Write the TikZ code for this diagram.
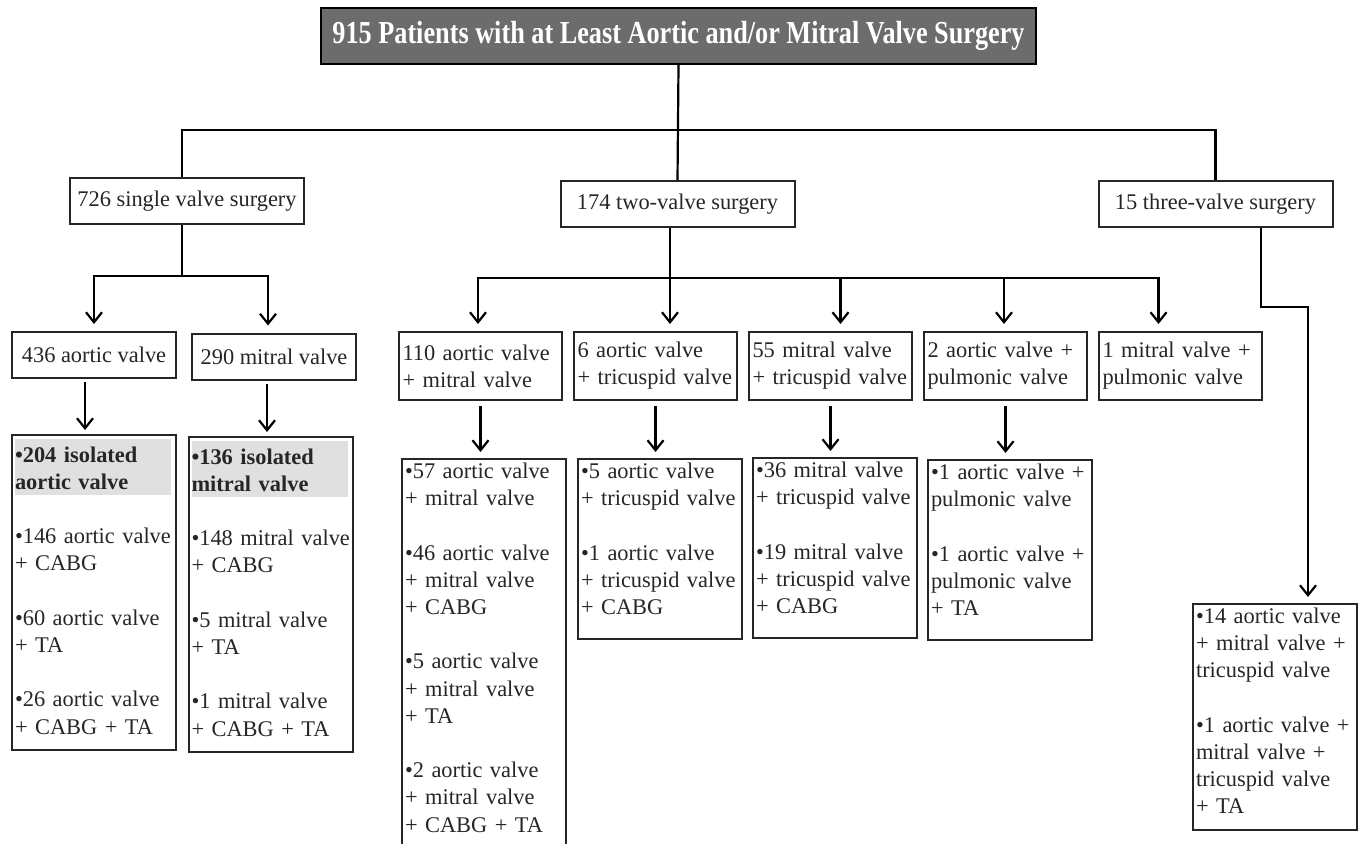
\documentclass[tikz,border=0pt]{standalone}
\usepackage{fontspec}
\setmainfont{Liberation Serif}
\newfontfamily\titlefont[FakeStretch=0.82]{Liberation Serif}
\usepackage{tikz}
\usetikzlibrary{arrows.meta}
\definecolor{titlegray}{RGB}{108,108,108}
\definecolor{hlgray}{RGB}{224,224,224}
\definecolor{ink}{RGB}{38,38,38}
\setlength{\fboxsep}{0pt}
\newcommand{\bodyfont}{\fontsize{11.2pt}{13.6pt}\selectfont}
\newcommand{\hl}[1]{\colorbox{hlgray}{\parbox[b]{78pt}{\bfseries\rule{0pt}{11.5pt}#1\rule[-3pt]{0pt}{3pt}}}}
\newcommand{\deep}[1]{\rule[-#1]{0pt}{#1}}
\newcommand{\emptyline}{\\[\baselineskip]}

\begin{document}
\begin{tikzpicture}[x=0.5pt, y=-0.5pt, line width=1.1pt, >={Straight Barb[length=5pt,width=8pt]}, node distance=87.5pt]
\tikzstyle{box}=[draw=ink, line width=1pt, text=ink, font=\bodyfont, inner sep=0pt]
\tikzstyle{title}=[draw=black, line width=1pt, fill=titlegray, text=white, font=\titlefont\fontsize{16pt}{18pt}\selectfont\bfseries, minimum width=357.5pt, minimum height=28pt]
\tikzstyle{midbox}=[box, minimum width=117pt, minimum height=23pt]
\tikzstyle{unitbox}=[box, minimum width=82pt, minimum height=23pt]
\tikzstyle{pairbox}=[box, text width=78pt, inner xsep=1.75pt, align=left, minimum height=34pt]
\tikzstyle{listbox}=[box, anchor=north, text width=79pt, inner xsep=1.5pt, inner ysep=2pt, align=left]
\path[fill=white, use as bounding box] (0,0) rectangle (1363,844);

\node[title] (all) at (678.5,36) {915 Patients with at Least Aortic and/or Mitral Valve Surgery};
\node[midbox] (single) at (187,201) {726 single valve surgery};
\node[midbox] (two) at (677.5,204) {174 two-valve surgery};
\node[midbox] (three) at (1215.5,204.5) {15 three-valve surgery};

\node[unitbox] (aortic) at (94,355) {436 aortic valve};
\node[unitbox] (mitral) at (274,356.5) {290 mitral valve};
\node[pairbox] (avmv) at (480.5,366) {110 aortic valve\\+ mitral valve};
\node[pairbox, right of=avmv] (avtv) {6 aortic valve\\+ tricuspid valve};
\node[pairbox, right of=avtv] (mvtv) {55 mitral valve\\+ tricuspid valve};
\node[pairbox, right of=mvtv] (avpv) {2 aortic valve +\\pulmonic valve};
\node[pairbox, right of=avpv] (mvpv) {1 mitral valve +\\pulmonic valve};

\node[listbox] (avlist) at (94,434) {\hl{•204 isolated\\aortic valve}\emptyline
  •146 aortic valve\\+ CABG\emptyline
  •60 aortic valve\\+ TA\emptyline
  •26 aortic valve\\+ CABG + TA\deep{6pt}};
\node[listbox] (mvlist) at (270.5,436) {\hl{•136 isolated\\mitral valve}\emptyline
  \mbox{•148 mitral valve}\\+ CABG\emptyline
  •5 mitral valve\\+ TA\emptyline
  •1 mitral valve\\+ CABG + TA\deep{6pt}};
\node[listbox] (avmvlist) at (484,458) {•57 aortic valve\\+ mitral valve\emptyline
  •46 aortic valve\\+ mitral valve\\+ CABG\emptyline
  •5 aortic valve\\+ mitral valve\\+ TA\emptyline
  •2 aortic valve\\+ mitral valve\\+ CABG + TA\deep{8pt}};
\node[listbox] (avtvlist) at (660,458) {•5 aortic valve\\+ tricuspid valve\emptyline
  •1 aortic valve\\+ tricuspid valve\\+ CABG\deep{10pt}};
\node[listbox] (mvtvlist) at (835,457) {•36 mitral valve\\+ tricuspid valve\emptyline
  •19 mitral valve\\+ tricuspid valve\\+ CABG\deep{10pt}};
\node[listbox] (avpvlist) at (1010,459) {•1 aortic valve +\\pulmonic valve\emptyline
  •1 aortic valve +\\pulmonic valve\\+ TA\deep{10pt}};
\node[listbox] (threelist) at (1275,603) {•14 aortic valve\\+ mitral valve +\\tricuspid valve\emptyline
  •1 aortic valve +\\mitral valve +\\tricuspid valve\\+ TA\deep{6pt}};

\coordinate (bus0) at (678.5,130);
\coordinate (bus1) at (182,276);
\coordinate (bus2) at (670,278);
\coordinate (bend3) at (1261,307);
\coordinate (adrop) at (85,378);
\coordinate (mdrop) at (267,380);

\draw (all.south) -- (two.north);
\draw ([xshift=-2.5pt]single.north) |- (bus0) -| (three.north);
\draw ([xshift=-2.5pt]single.south) -- (bus1);
\draw[->, shorten >=3.5pt] (bus1) -| (aortic.north);
\draw[->, shorten >=3.5pt] (bus1) -| ([xshift=-3pt]mitral.north);
\draw (bus2 |- two.south) -- (bus2);
\draw[->, shorten >=3.5pt] (bus2) -| ([xshift=-1.25pt]avmv.north);
\draw[->, shorten >=3.5pt] (bus2) -| (bus2 |- avtv.north);
\draw[->, shorten >=3.5pt] (bus2) -| ([xshift=5pt]mvtv.north);
\draw[->, shorten >=3.5pt] (bus2) -| ([xshift=-0.75pt]avpv.north);
\draw[->, shorten >=3.5pt] (bus2) -| ([xshift=-11pt]mvpv.north);
\draw[->, shorten >=3pt] (bend3 |- three.south) -- (bend3) -| ([xshift=16.5pt]threelist.north);

\draw[->, shorten <=2pt, shorten >=2pt] (adrop) -- (adrop |- avlist.north);
\draw[->, shorten <=2pt, shorten >=2pt] (mdrop) -- (mdrop |- mvlist.north);
\draw[->, shorten <=2.5pt, shorten >=3pt] (avmv.south) -- (avmv.south |- avmvlist.north);
\draw[->, shorten <=2.5pt, shorten >=3pt] (avtv.south) -- (avtv.south |- avtvlist.north);
\draw[->, shorten <=2.5pt, shorten >=3pt] (mvtv.south) -- (mvtv.south |- mvtvlist.north);
\draw[->, shorten <=2.5pt, shorten >=3pt] (avpv.south) -- (avpv.south |- avpvlist.north);
\end{tikzpicture}
\end{document}
